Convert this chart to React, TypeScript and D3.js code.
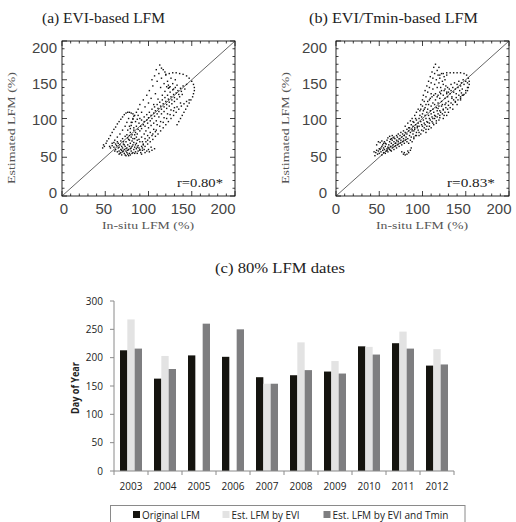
import React from 'react';
import * as d3 from 'd3';

// ---------- Bar chart data (c) ----------
const years = ['2003', '2004', '2005', '2006', '2007', '2008', '2009', '2010', '2011', '2012'];
const originalLFM = [213, 163, 204, 201.5, 165.5, 169, 175.5, 220, 225.5, 186];
const estByEVI: (number | null)[] = [267.5, 203, null, null, 154, 227, 194, 219, 246, 215];
const estByEVITmin = [216, 180, 260, 250, 154, 178, 172, 205.5, 216, 188];
const barTicks = [0, 50, 100, 150, 200, 250, 300];
const seriesNames = ['Original LFM', 'Est. LFM by EVI', 'Est. LFM by EVI and Tmin'];
const seriesColors = ['#15140f', '#e3e3e3', '#7e7e80'];

// ---------- Scatter data (a) EVI-based ----------
const scatterTicks = [0, 50, 100, 150, 200];
const aCore = [[62,60],[64,57],[65,62],[66,58],[67,55],[68,60],[69,64],[70,57],[70,62],[71,67],[72,55],[72,60],[73,64],[74,58],[74,70],[75,62],[75,56],[76,66],[77,60],[77,73],[78,55],[78,64],[79,68],[80,58],[80,62],[81,71],[82,56],[82,66],[83,60],[84,74],[84,63],[85,57],[86,68],[86,61],[87,72],[88,58],[88,65],[89,62],[90,70],[91,56],[92,64],[93,59],[94,67],[63,65],[65,68],[67,66],[68,71],[70,74],[71,70],[73,77],[75,79],[76,75],[78,78],[79,82],[81,79],[83,85],[60,63],[61,58],[66,54],[69,53],[73,53],[76,54],[79,53],[84,55],[87,55],[90,59],[95,60],[98,58],[101,57],[104,59],[107,61],[66,63],[69,59],[72,66],[74,61],[76,59],[79,61],[81,64],[83,69],[85,66],[87,63],[71,58],[68,56]];
const aArc = [[47,62],[48,66],[49,64],[51,68],[52,71],[54,74],[56,78],[58,82],[60,86],[62,89],[64,93],[66,96],[68,99],[70,102],[72,105],[74,107],[76,108],[78,108],[80,107],[82,106],[83,103],[82,99],[81,95],[80,91],[79,87],[55,64],[58,68],[61,72],[64,76],[67,80],[70,85],[73,90],[75,95],[77,100]];
const aBand = [[78,72],[80,76],[82,74],[84,79],[85,82],[87,80],[88,86],[90,84],[91,90],[92,87],[94,92],[95,96],[96,90],[98,98],[99,94],[100,101],[102,97],[103,104],[104,100],[106,107],[107,103],[108,110],[110,106],[111,113],[112,109],[114,116],[115,112],[117,119],[118,115],[120,122],[121,118],[123,125],[124,121],[126,128],[127,124],[129,131],[130,127],[132,133],[134,136],[135,131],[137,139],[138,135],[140,142],[142,138],[144,144],[131,140],[128,137],[125,134],[122,130],[119,127],[116,124],[113,121],[110,118],[107,115],[104,112],[101,108],[98,105],[95,102],[92,98],[89,94],[86,90],[83,88],[123,139],[125,141],[121,141],[123,143]];
const aLower = [[90,60],[93,62],[96,64],[99,67],[102,70],[105,73],[108,77],[111,80],[114,84],[117,88],[120,92],[123,96],[126,100],[129,104],[132,108],[135,112],[138,116],[141,119],[144,122],[147,124],[97,70],[101,75],[105,80],[109,85],[113,90],[117,95],[121,100],[125,105],[129,110],[133,115],[137,120],[94,66],[99,72],[104,78],[108,83]];
const aUpper = [[88,112],[90,118],[92,108],[94,124],[96,115],[98,130],[100,120],[101,136],[103,126],[105,142],[106,118],[108,132],[110,148],[111,125],[112,158],[113,169],[114,140],[115,152],[116,130],[117,163],[118,145],[119,135],[120,157],[122,148],[124,140],[126,152],[128,145],[129,138],[131,150],[133,143],[109,163],[107,155],[104,150],[115,165],[119,160]];
const aLoop = [[120,156],[124,158],[128,159],[132,159],[136,158],[140,157],[144,155],[147,152],[150,148],[152,144],[153,140],[153,136],[152,132],[151,128],[149,124],[147,120],[145,116],[143,112],[141,108],[139,104],[137,100],[135,96],[133,92]];
const aExtra = [[86,76],[89,73],[92,76],[95,80],[97,84],[100,88],[103,91],[106,94],[109,97],[112,102],[115,106],[118,109],[121,113],[124,116],[127,119],[130,122],[133,125],[136,128],[139,131],[93,70],[96,74],[99,78],[102,82],[106,86],[110,92],[114,96],[118,101],[122,106],[126,111],[130,114],[76,85],[78,90],[80,95],[82,100],[84,104],[86,108],[88,104],[90,100],[85,96],[87,99],[64,70],[62,67],[60,69],[58,65],[56,62],[74,52],[77,52],[81,55],[92,54],[96,56],[100,60],[103,63]];

// ---------- Scatter data (b) EVI/Tmin-based ----------
const bCore = [[45,52],[46,56],[48,54],[49,58],[50,55],[51,60],[52,57],[53,53],[54,59],[55,62],[55,56],[56,60],[57,64],[58,58],[58,67],[59,61],[60,63],[60,57],[61,66],[62,60],[62,70],[63,64],[64,58],[64,68],[65,62],[65,72],[66,66],[67,60],[67,70],[68,64],[68,74],[69,68],[70,62],[70,72],[71,66],[71,76],[72,70],[73,64],[73,74],[74,68],[74,78],[75,72],[76,66],[76,76],[77,70],[77,80],[78,74],[79,68],[79,78],[80,72],[80,82],[81,76],[82,70],[82,80],[83,74],[84,84],[84,68],[85,78],[86,72],[86,82],[87,76],[88,86],[88,70],[89,80],[90,74],[90,84],[91,88],[92,78],[93,82],[94,90],[95,85],[52,62],[54,66],[56,70],[57,68],[59,72],[60,75],[62,77],[63,73],[65,78],[66,75],[53,64],[50,61],[47,59],[44,57],[47,66],[49,70],[51,69],[53,71],[55,68],[57,55],[59,59],[61,62],[63,59],[66,63],[69,65],[72,67],[75,69],[78,71],[81,73]];
const bDip = [[76,57],[78,54],[80,53],[82,54],[84,56],[86,59],[87,62],[79,56],[83,58]];
const bBand = [[85,88],[87,92],[88,84],[89,90],[90,95],[91,86],[92,92],[93,98],[94,88],[95,94],[96,100],[96,90],[97,104],[98,96],[99,92],[99,102],[100,106],[101,98],[101,110],[102,94],[103,104],[103,114],[104,100],[105,108],[105,96],[106,112],[107,104],[107,118],[108,100],[109,110],[110,106],[110,116],[111,102],[112,112],[112,120],[113,108],[114,118],[114,104],[115,124],[116,114],[117,110],[117,128],[118,120],[119,116],[120,126],[120,110],[121,132],[122,122],[123,118],[124,130],[124,112],[125,136],[126,126],[127,120],[128,134],[129,140],[129,128],[130,122],[131,138],[132,132],[133,144],[134,128],[135,140],[136,134],[137,146],[138,138],[139,132],[140,144],[141,140],[142,148],[143,136],[144,142],[145,146],[146,138],[147,150],[148,144],[150,148],[152,146]];
const bUpper = [[98,118],[100,124],[101,130],[102,122],[103,136],[104,128],[105,142],[106,134],[107,148],[108,124],[108,140],[109,154],[110,132],[110,146],[111,160],[112,138],[112,152],[113,166],[114,144],[114,158],[115,170],[115,132],[116,150],[117,162],[117,140],[118,156],[119,146],[119,166],[120,152],[121,140],[122,158],[123,148],[124,144],[125,154],[126,150],[127,142],[128,156]];
const bLoop = [[120,156],[124,158],[128,159],[132,159],[136,159],[140,159],[144,159],[148,158],[151,156],[153,152],[154,148],[154,144],[153,140],[152,136],[150,133],[148,131],[146,130],[144,128]];
const bLower = [[100,90],[103,92],[106,95],[109,98],[112,100],[115,103],[118,106],[121,108],[124,111],[127,114],[130,117],[133,120],[136,124],[139,127],[142,130],[145,133],[104,86],[108,90],[112,94],[116,97],[120,101],[125,104],[130,108],[135,112],[140,118],[144,124],[118,113],[122,116],[126,118],[134,126],[138,122]];
const bExtra = [[80,90],[83,94],[86,97],[88,100],[91,104],[93,108],[95,112],[97,110],[92,100],[89,96],[84,88],[82,86],[78,84],[75,82],[72,80],[70,78],[67,76],[64,74],[90,76],[93,78],[96,82],[99,85],[102,88],[105,90],[108,94],[111,96],[114,100],[117,102],[120,104],[123,106],[126,108],[129,112],[132,114],[135,118],[138,121],[141,124],[144,126],[147,130],[150,136],[152,140],[96,78],[98,80],[101,84],[104,82],[107,86],[110,88],[113,92],[116,94],[119,98],[124,100],[128,104],[104,118],[106,122],[109,126],[111,128],[113,130],[102,112],[100,116],[98,112],[118,130],[120,134],[122,136],[126,138],[128,132],[130,134],[133,136]];

const aPoints = [...aCore, ...aArc, ...aBand, ...aLower, ...aUpper, ...aLoop, ...aExtra];
const bPoints = [...bCore, ...bDip, ...bBand, ...bUpper, ...bLoop, ...bLower, ...bExtra];

const serif = '"Liberation Serif", "DejaVu Serif", serif';
const sans = '"Liberation Sans", Arial, sans-serif';
const open = '"Open Sans", "Noto Sans", sans-serif';

function Scatter(props: any) {
  const { left, right, top, bottom, pts, title, titleX, titleLen, rText, rX, rLen,
    xLabRange, yLabRight, yTitleX, xTitleX, xTitleLen } = props;
  const x = d3.scaleLinear().domain([0, 200]).range([left, right]);
  const y = d3.scaleLinear().domain([0, 200]).range([bottom, top]);
  const xl = d3.scaleLinear().domain([0, 200]).range(xLabRange);
  const yl = d3.scaleLinear().domain([0, 200]).range([192.5, 47.5]);
  const minor = d3.range(0, 201, 10);
  const tickEls: any[] = [];
  minor.forEach((v) => {
    const len = v % 50 === 0 ? 5 : 2.5;
    const px = x(v), py = y(v);
    tickEls.push(<line key={'b' + v} x1={px} x2={px} y1={bottom} y2={bottom - len} />);
    tickEls.push(<line key={'t' + v} x1={px} x2={px} y1={top} y2={top + len} />);
    tickEls.push(<line key={'l' + v} x1={left} x2={left + len} y1={py} y2={py} />);
    tickEls.push(<line key={'r' + v} x1={right} x2={right - len} y1={py} y2={py} />);
  });
  return (
    <g>
      <text x={titleX} y={23} fontFamily={serif} fontSize={15} textLength={titleLen}
        lengthAdjust="spacingAndGlyphs" fill="#222">{title}</text>
      <rect x={left} y={top} width={right - left} height={bottom - top} fill="none" stroke="#111" strokeWidth={0.9} />
      <g stroke="#111" strokeWidth={0.8}>{tickEls}</g>
      <line x1={x(0)} y1={y(0)} x2={x(200)} y2={y(200)} stroke="#222" strokeWidth={0.7} />
      <g fill="#111">
        {pts.map((p: number[], i: number) => (
          <rect key={i} x={x(p[0]) - 0.7} y={y(p[1]) - 0.7} width={1.4} height={1.4} />
        ))}
      </g>
      <g fontFamily={sans} fontSize={15} fill="#444">
        {scatterTicks.map((v) => (
          <text key={'xl' + v} x={xl(v)} y={213.5} textAnchor="middle">{v}</text>
        ))}
        {scatterTicks.map((v) => (
          <text key={'yl' + v} x={yLabRight} y={yl(v) + 5.3} textAnchor="end">{v}</text>
        ))}
      </g>
      <text x={rX} y={187} fontFamily={serif} fontSize={13} textLength={rLen}
        lengthAdjust="spacingAndGlyphs" fill="#222">{rText}</text>
      <text x={xTitleX} y={229} fontFamily={serif} fontSize={10.5} textLength={xTitleLen}
        lengthAdjust="spacingAndGlyphs" fill="#555">In-situ LFM (%)</text>
      <text transform={`translate(${yTitleX},${128}) rotate(-90)`} textAnchor="middle"
        fontFamily={serif} fontSize={10.5} textLength={112} lengthAdjust="spacingAndGlyphs"
        fill="#555">Estimated LFM (%)</text>
    </g>
  );
}

function Bars() {
  const x0 = d3.scaleBand().domain(years).range([114, 454]).paddingInner(0.353).paddingOuter(0.1765);
  const x1 = d3.scaleBand().domain(['0', '1', '2']).range([0, x0.bandwidth()]);
  const y = d3.scaleLinear().domain([0, 300]).range([471, 301]);
  const series = [originalLFM, estByEVI, estByEVITmin];
  const step = x0.step();
  const legendX = [133, 222.5, 323.5];
  const legendLen = [58, 68, 116];
  return (
    <g>
      <text x={215} y={273} fontFamily={serif} fontSize={15} textLength={130}
        lengthAdjust="spacingAndGlyphs" fill="#222">(c) 80% LFM dates</text>
      {series.map((s, si) => (
        <g key={si} fill={seriesColors[si]}>
          {s.map((v, i) => v == null ? null : (
            <rect key={i} x={(x0(years[i]) as number) + (x1(String(si)) as number)} y={y(v)}
              width={x1.bandwidth()} height={y(0) - y(v)} />
          ))}
        </g>
      ))}
      <g stroke="#8a8a8a" strokeWidth={1}>
        <line x1={114} x2={114} y1={y(300)} y2={y(0)} />
        <line x1={114} x2={454} y1={y(0)} y2={y(0)} />
        {barTicks.map((t) => <line key={t} x1={110} x2={114} y1={y(t)} y2={y(t)} />)}
        {d3.range(0, 11).map((i) => (
          <line key={'x' + i} x1={114 + i * step} x2={114 + i * step} y1={y(0)} y2={y(0) + 4} />
        ))}
      </g>
      <g fontFamily={open} fontSize={10} fill="#222">
        {barTicks.map((t) => (
          <text key={t} x={103} y={y(t) + 3.6} textAnchor="end">{t}</text>
        ))}
        {years.map((yr) => (
          <text key={yr} x={(x0(yr) as number) + x0.bandwidth() / 2} y={490} textAnchor="middle">{yr}</text>
        ))}
      </g>
      <text transform={`translate(${79},${388}) rotate(-90)`} textAnchor="middle" fontFamily={open}
        fontSize={10} fontWeight="bold" textLength={52} lengthAdjust="spacingAndGlyphs" fill="#222">Day of Year</text>
      <rect x={110.5} y={505.5} width={354.5} height={24} fill="#fff" stroke="#8a8a8a" strokeWidth={1} />
      {seriesNames.map((n, i) => (
        <g key={n}>
          <rect x={legendX[i]} y={511} width={7} height={7} fill={seriesColors[i]} />
          <text x={legendX[i] + 9} y={518.5} fontFamily={open} fontSize={10.5} fill="#222"
            textLength={legendLen[i]} lengthAdjust="spacingAndGlyphs">{n}</text>
        </g>
      ))}
    </g>
  );
}

export default function App() {
  return (
    <svg width={516} height={522} style={{ position: 'absolute', left: 0, top: 0, background: '#fff' }}>
      <rect x={0} y={0} width={516} height={522} fill="#fff" />
      <Scatter left={62} right={235} top={41} bottom={196} pts={aPoints}
        title="(a) EVI-based LFM" titleX={42} titleLen={123}
        rText="r=0.80*" rX={177} rLen={46}
        xLabRange={[64, 223]} yLabRight={57} yTitleX={15} xTitleX={102} xTitleLen={92} />
      <Scatter left={336} right={509} top={41} bottom={196} pts={bPoints}
        title="(b) EVI/Tmin-based LFM" titleX={309} titleLen={169}
        rText="r=0.83*" rX={447} rLen={48}
        xLabRange={[336, 499]} yLabRight={327} yTitleX={289} xTitleX={376} xTitleLen={92} />
      <Bars />
    </svg>
  );
}
